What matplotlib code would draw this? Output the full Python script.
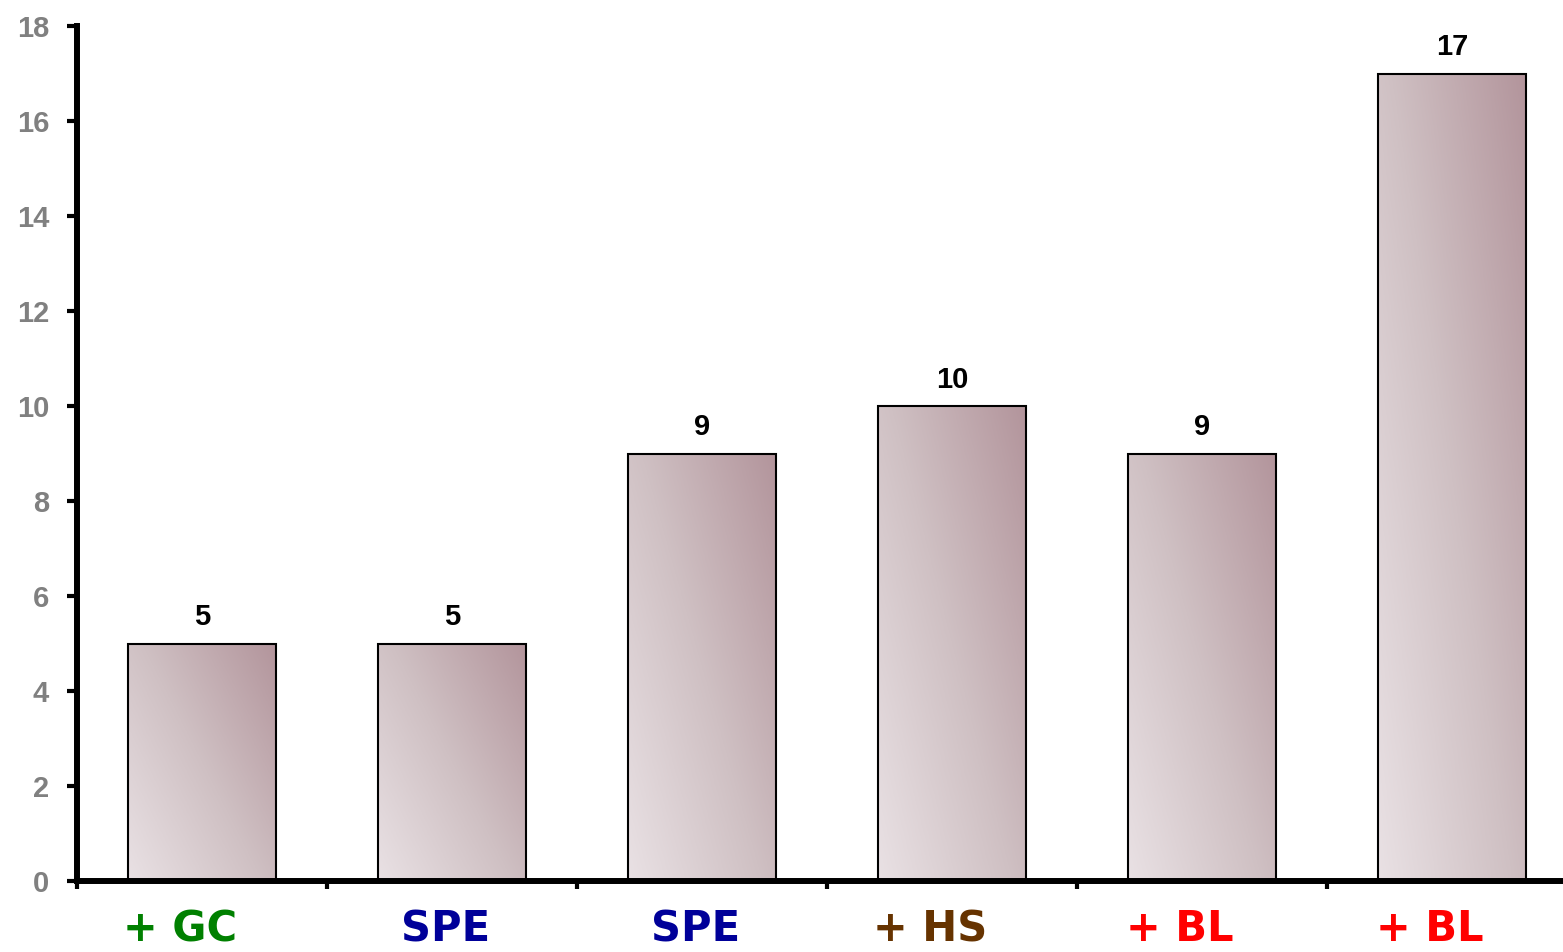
import numpy as np
import matplotlib
matplotlib.use("Agg")
import matplotlib.pyplot as plt
import matplotlib.transforms as mtransforms
from matplotlib.colors import LinearSegmentedColormap

categories = ["+ GC", "SPE", "SPE", "+ HS", "+ BL", "+ BL"]
values = [5, 5, 9, 10, 9, 17]
label_colors = ["#008000", "#000099", "#000099", "#663300", "#ff0000", "#ff0000"]
yticks = [0, 2, 4, 6, 8, 10, 12, 14, 16, 18]

fig = plt.figure(figsize=(15.63, 9.52), dpi=100)
ax = fig.add_axes([77 / 1563, 71 / 952, 1 - 77 / 1563, 855 / 952])

x = np.arange(len(categories))
width = 0.59
bars = ax.bar(x, values, width=width, facecolor="none", edgecolor="black", linewidth=1.5, zorder=3)

cmap = LinearSegmentedColormap.from_list("g", ["#e9e1e4", "#cfc0c3", "#b3959c"])
nx, ny = 100, 100
u = np.linspace(0, 1, nx)[None, :]
v = np.linspace(0, 1, ny)[:, None]
grad = 0.55 * u + 0.45 * v
for b in bars:
    x0, y0 = b.get_x(), b.get_y()
    w, h = b.get_width(), b.get_height()
    im = ax.imshow(grad, cmap=cmap, vmin=0, vmax=1, origin="lower",
                   extent=[x0, x0 + w, y0, y0 + h], aspect="auto", zorder=2,
                   interpolation="bilinear")
    im.set_clip_path(b)

num_font = ["Liberation Sans", "DejaVu Sans"]
for xi, val in zip(x, values):
    ax.annotate(str(val), xy=(xi, val), xytext=(0, 13), textcoords="offset points",
                ha="center", va="baseline", fontsize=21, fontweight="bold",
                color="black", family=num_font)

ax.set_yticks(yticks)
ax.set_yticklabels([str(t) for t in yticks])
ax.set_xticks(np.arange(len(categories)) - 0.5)
ax.set_xticklabels([])
ax.set_xlim(-0.5, -0.5 + 1486 / 250)
ax.set_ylim(0, 18)

for s in ["top", "right"]:
    ax.spines[s].set_visible(False)
ax.spines["left"].set_linewidth(4.3)
ax.spines["bottom"].set_linewidth(4.3)
ax.spines["left"].set_bounds(0, 18)

ax.tick_params(axis="y", direction="out", length=7, width=3, pad=13,
               labelsize=21, labelcolor="#808080")
for lab in ax.get_yticklabels():
    lab.set_fontweight("bold")
    lab.set_family(num_font)
ax.tick_params(axis="x", direction="out", length=6, width=3)

trans = mtransforms.blended_transform_factory(ax.transData, ax.transAxes)
for xi, cat, col in zip(x, categories, label_colors):
    dx = -22 / 100 if cat.startswith("+") else -6 / 100
    t = trans + mtransforms.ScaledTranslation(dx, -60 / 100, fig.dpi_scale_trans)
    ax.text(xi, 0, cat, transform=t, ha="center", va="baseline",
            fontsize=30, fontweight="bold", color=col, clip_on=False)

fig.savefig("out.png", dpi=100)
